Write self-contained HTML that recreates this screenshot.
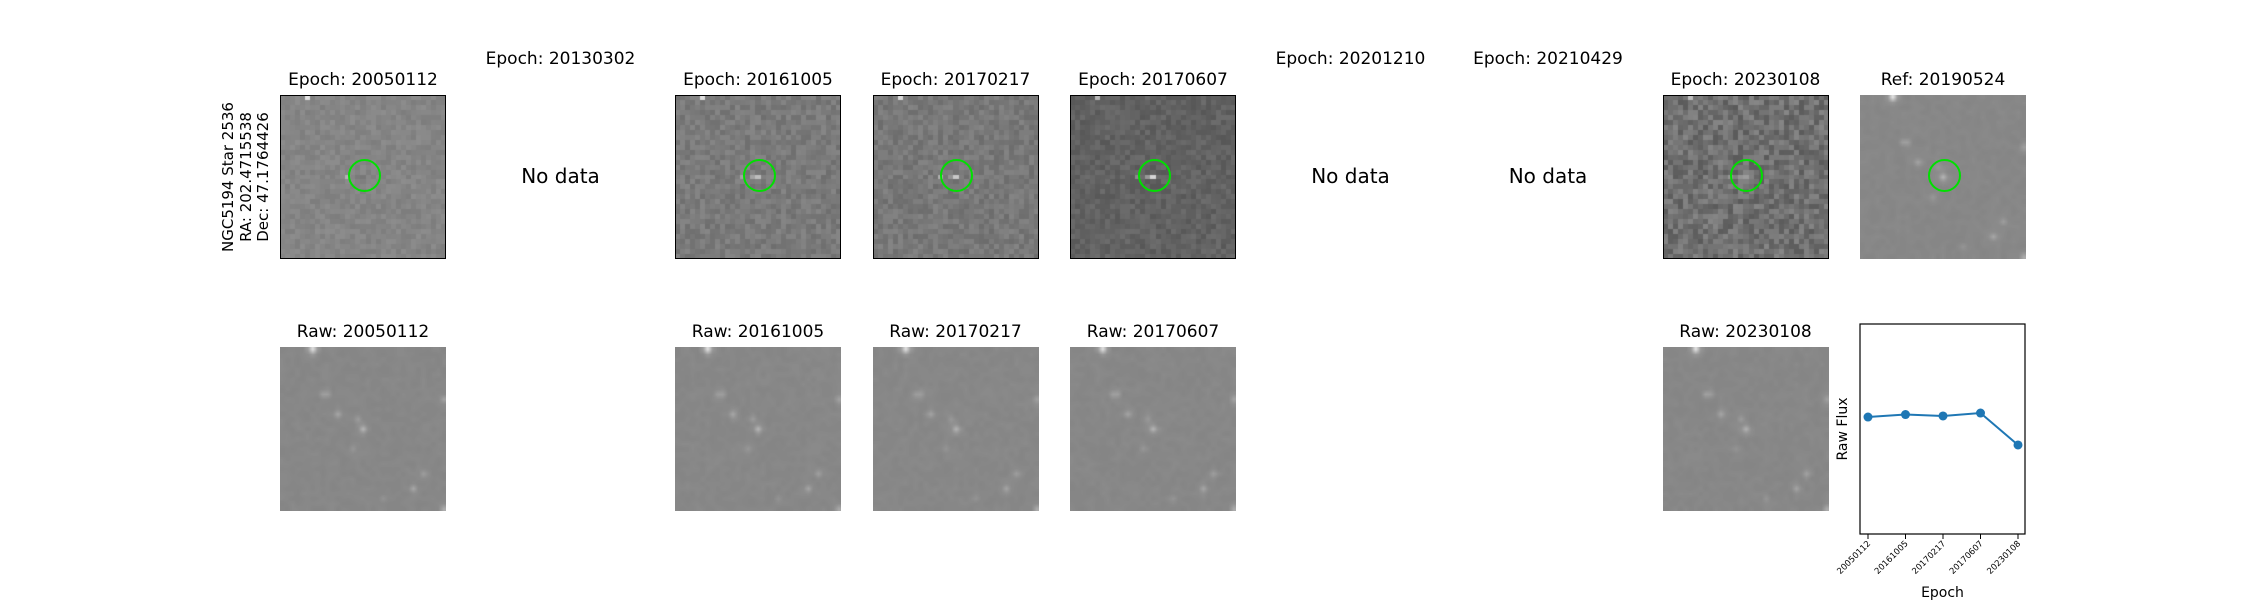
<!DOCTYPE html>
<html><head><meta charset="utf-8">
<style>
html,body{margin:0;padding:0;background:#fff;}
#root{position:relative;width:2250px;height:600px;overflow:hidden;font-family:"DejaVu Sans","Liberation Sans",sans-serif;color:#000;}
.t{position:absolute;font-size:17px;white-space:nowrap;transform:translateX(-50%);line-height:1;}
.nd{position:absolute;font-size:20px;white-space:nowrap;transform:translate(-50%,-50%);line-height:1;}
canvas{position:absolute;}
.bx{position:absolute;border:1.5px solid #000;box-sizing:border-box;pointer-events:none;}
.circ{position:absolute;width:33px;height:33px;border:2px solid #00e000;border-radius:50%;box-sizing:border-box;}
</style></head><body>
<div id="root">
<div style="position:absolute;left:246px;top:177px;transform:translate(-50%,-50%) rotate(-90deg);font-size:15px;text-align:center;line-height:17.5px;white-space:nowrap;">NGC5194 Star 2536<br>RA: 202.4715538<br>Dec: 47.1764426</div>
<svg id="flux" style="position:absolute;left:0;top:0" width="2250" height="600"></svg>
</div>
<script>
const epochs=["20050112","20130302","20161005","20170217","20170607","20201210","20210429","20230108"];
const hasData=[true,false,true,true,true,false,false,true];
const bgLevels=[133,0,122,120,98,0,0,112];
const noiseAmp=[8,0,12,12,11,0,0,22];
const fluxEpochs=["20050112","20161005","20170217","20170607","20230108"];
const fluxValues=[0.557,0.569,0.562,0.576,0.424];

const root=document.getElementById('root');
const colX=i=>280+i*197.5;
const PW=166,PH=164,R1=95,R2=347;
let seed=12345;
function rnd(){seed=(seed*1103515245+12345)&0x7fffffff;return seed/0x7fffffff;}
const stars=[[6,0,90],[8.5,9,35],[32.5,10,40],[11,13,30],[15,14,20],[16,16,45],[14,20,15],[26,28,30],[28,25,25],[32.5,32,50],[20,30,12]];
function drawImg(ctx,base,amp,smooth,center){
  const N=33,off=document.createElement('canvas');off.width=N;off.height=N;
  const c=off.getContext('2d'),img=c.createImageData(N,N);
  for(let y=0;y<N;y++)for(let x=0;x<N;x++){
    let v=base+(rnd()-0.5)*2*amp;
    if(smooth){for(const s of stars){const d=(x-s[0])**2+(y-s[1])**2;v+=s[2]*Math.exp(-d/0.6);}}
    else{ if(x===5&&y===0)v+=90; if(x===16&&y===16)v+=center; if(x===15&&y===16)v+=center*0.5; if(x===13&&y===16)v+=50;}
    v=Math.max(0,Math.min(255,v));const k=(y*N+x)*4;img.data[k]=img.data[k+1]=img.data[k+2]=v;img.data[k+3]=255;}
  c.putImageData(img,0,0);ctx.imageSmoothingEnabled=!!smooth;ctx.drawImage(off,0,0,PW,PH);
}
function panel(x,y,name,base,amp,smooth,center,border,circle){
  const cv=document.createElement('canvas');cv.width=PW;cv.height=PH;cv.style.left=x+'px';cv.style.top=y+'px';
  
  
  root.appendChild(cv);drawImg(cv.getContext('2d'),base,amp,smooth,center);
  if(border){const b=document.createElement('div');b.className='bx';b.style.left=x+'px';b.style.top=y+'px';b.style.width=PW+'px';b.style.height=PH+'px';
    
    
    root.appendChild(b);}
  if(circle){const c=document.createElement('div');c.className='circ';c.style.left=(x+84-16.5)+'px';c.style.top=(y+80-16.5)+'px';
    
    
    root.appendChild(c);}
}
function text(cls,x,y,s,name){const d=document.createElement('div');d.className=cls;d.style.left=x+'px';d.style.top=y+'px';d.textContent=s;
  
  
  root.appendChild(d);}
const centers=[-20,0,60,70,110,0,0,50];
epochs.forEach((e,i)=>{
  const cx=colX(i)+83;
  if(hasData[i]){
    text('t',cx,72,'Epoch: '+e,'epoch-title-'+e);
    panel(colX(i),R1,'diff-image-'+e,bgLevels[i],noiseAmp[i],false,centers[i],true,true);
    text('t',cx,324,'Raw: '+e,'raw-title-'+e);
    panel(colX(i),R2,'raw-image-'+e,136,3,true,0,false,false);
  }else{
    text('t',cx,51,'Epoch: '+e,'epoch-title-'+e);
    text('nd',cx,176,'No data','no-data-'+e);
  }
});
text('t',colX(8)+83,72,'Ref: 20190524','ref-title');
panel(colX(8),R1,'ref-image',136,3,true,0,false,true);

// flux chart
const svg=document.getElementById('flux'),NS='http://www.w3.org/2000/svg';
const L=1860,Rt=2025,T=324,B=534;
const xs=i=>1868+i*(2018-1868)/(fluxEpochs.length-1);
const ys=v=>B-v*(B-T);
function el(tag,at,name){const e=document.createElementNS(NS,tag);for(const k in at)e.setAttribute(k,at[k]);
  
  
  svg.appendChild(e);return e;}
el('rect',{x:L,y:T,width:Rt-L,height:B-T,fill:'none',stroke:'#000','stroke-width':1.2},'flux-axes-frame');
el('polyline',{points:fluxValues.map((v,i)=>xs(i)+','+ys(v)).join(' '),fill:'none',stroke:'#1f77b4','stroke-width':2},'flux-line');
fluxValues.forEach((v,i)=>{
  el('circle',{cx:xs(i),cy:ys(v),r:4.5,fill:'#1f77b4'},'flux-point-'+fluxEpochs[i]);
  el('line',{x1:xs(i),x2:xs(i),y1:B,y2:B+5,stroke:'#000','stroke-width':1},'x-tick');
  const t=el('text',{x:xs(i)+3,y:B+10,'font-size':8.5,'text-anchor':'end','font-family':'DejaVu Sans, sans-serif',transform:`rotate(-45 ${xs(i)+3} ${B+10})`},'x-tick-label');
  t.textContent=fluxEpochs[i];
});
const xl=el('text',{x:(L+Rt)/2,y:597,'font-size':14,'text-anchor':'middle','font-family':'DejaVu Sans, sans-serif'},'x-axis-title');xl.textContent='Epoch';
const yl=el('text',{x:1847,y:429,'font-size':14,'text-anchor':'middle','font-family':'DejaVu Sans, sans-serif',transform:'rotate(-90 1847 429)'},'y-axis-title');yl.textContent='Raw Flux';
</script>
</body></html>
